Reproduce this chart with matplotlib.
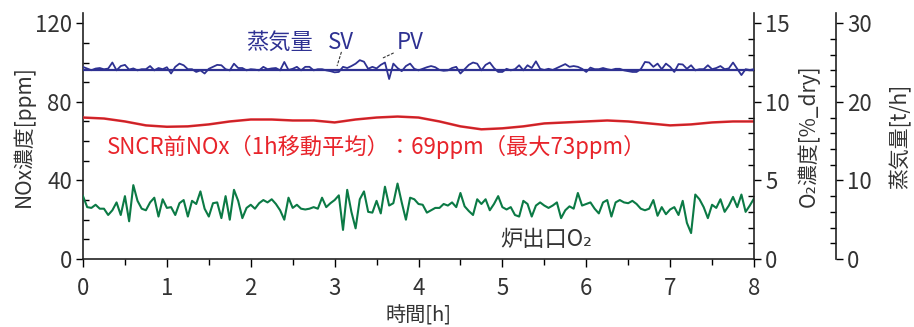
import numpy as np
import matplotlib
matplotlib.use("Agg")
import matplotlib.pyplot as plt
from matplotlib.ticker import MultipleLocator

plt.rcParams['font.family'] = ['Noto Sans CJK JP', 'DejaVu Sans']

# time axis for 1-min style traces (every 0.05 h)
t_fast = np.arange(161) * 0.05

# furnace outlet O2 [%_dry]
o2 = [4.0, 3.3, 3.25, 3.45, 3.2, 3.2, 2.8, 3.1, 3.6, 2.8,
      4.0, 2.4, 4.7, 3.7, 3.2, 3.1, 3.6, 3.9, 2.7, 3.8,
      3.25, 3.3, 2.8, 3.55, 3.75, 2.7, 3.7, 3.5, 4.3, 3.2,
      2.7, 3.55, 3.6, 2.6, 4.0, 2.5, 4.4, 3.7, 2.6, 3.25,
      3.45, 3.2, 3.55, 3.75, 3.6, 3.8, 3.5, 3.1, 2.5, 3.9,
      3.25, 3.45, 3.2, 3.15, 3.2, 3.3, 3.2, 3.9, 3.3, 3.55,
      3.75, 4.05, 1.85, 4.4, 3.0, 1.95, 3.8, 4.3, 3.0, 2.95,
      3.7, 2.9, 4.6, 3.4, 3.55, 4.8, 3.6, 2.5, 3.9, 3.8,
      3.5, 3.45, 2.95, 3.1, 3.25, 3.25, 3.5, 3.4, 3.6, 3.3,
      4.2, 3.35, 3.05, 2.8, 3.8, 3.5, 3.8, 3.1, 3.5, 4.0,
      3.3, 3.15, 3.3, 2.8, 2.7, 3.7, 3.5, 2.7, 3.4, 3.6,
      3.4, 3.25, 3.4, 3.6, 2.6, 3.1, 3.35, 3.2, 4.2, 3.4,
      3.5, 3.6, 3.2, 2.9, 3.6, 3.75, 2.7, 3.6, 3.75, 3.6,
      3.55, 3.7, 3.5, 3.2, 3.1, 3.2, 3.75, 2.75, 3.3, 2.85,
      3.15, 3.3, 2.8, 3.7, 2.3, 1.65, 4.1, 3.8, 3.3, 2.6,
      3.45, 3.25, 3.8, 3.0, 3.4, 3.95, 3.3, 4.1, 3.0, 3.4,
      3.85]

# steam flow PV [t/h]
steam_pv = [24.44, 24.23, 24.02, 24.23, 24.3, 24.14, 24.23, 25.0, 24.0, 24.55,
            24.7, 24.1, 24.25, 24.0, 24.15, 24.15, 24.55, 24.0, 24.3, 24.15,
            24.4, 23.6, 24.45, 24.86, 24.65, 24.15, 24.15, 23.8, 24.0, 23.6,
            24.2, 24.45, 24.7, 24.65, 24.15, 24.0, 24.85, 24.3, 24.3, 24.0,
            24.15, 24.1, 24.0, 24.45, 24.15, 24.25, 24.3, 24.0, 25.07, 24.05,
            24.2, 24.45, 24.0, 24.45, 24.45, 24.0, 24.15, 24.15, 24.0, 23.9,
            23.75, 23.8, 24.45, 24.3, 24.55, 24.85, 25.3, 25.1, 24.2, 24.45,
            24.25, 24.7, 25.0, 22.9, 24.86, 24.3, 23.9, 24.55, 24.86, 24.2,
            24.0, 24.2, 24.4, 24.55, 24.4, 24.05, 23.95, 24.0, 24.3, 24.45,
            23.6, 24.15, 24.7, 25.0, 24.85, 24.0, 24.7, 25.0, 24.3, 23.8,
            23.8, 24.2, 24.0, 24.15, 24.65, 24.0, 24.65, 24.3, 25.15, 24.2,
            24.05, 24.2, 24.05, 24.3, 24.55, 24.8, 24.45, 24.55, 24.45, 24.2,
            23.8, 24.35, 24.15, 24.15, 24.3, 24.15, 24.05, 24.2, 24.2, 24.0,
            23.9, 23.8, 23.8, 24.15, 25.07, 25.0, 24.45, 24.86, 24.15, 24.86,
            24.45, 23.8, 24.8, 24.75, 24.2, 24.65, 24.0, 24.15, 24.15, 24.65,
            24.15, 24.3, 24.55, 24.15, 24.25, 25.0, 24.2, 23.4, 24.15, 24.05,
            24.15]
steam_sv = 24.1

# NOx before SNCR, 1h moving average [ppm] (every 0.25 h)
t_nox = np.arange(33) * 0.25
nox = [72, 71.5, 70, 68, 67.3, 67.5, 68.5, 70, 71, 71, 70.5,
       70.5, 69.5, 71, 72, 72.5, 72, 70, 67.5, 66, 66.5,
       67.5, 69, 69.5, 70, 70.5, 70, 69, 68, 68.5, 69.5,
       70, 70]

blue = '#2e3192'
green = '#0b7a45'
red = '#e8242b'
txt = '#333333'

fig = plt.figure(figsize=(9.14, 3.27), dpi=100)
ax = fig.add_axes([83 / 914, 68 / 327, 671 / 914, 246 / 327])
ax2 = ax.twinx()
ax3 = ax.twinx()

ax.plot(t_nox, nox, color=red, lw=1.8, zorder=3)
ax.plot(t_nox, nox, color='#8a2a2a', lw=0.6, alpha=0.6, zorder=4)
ax2.plot(t_fast, o2, color=green, lw=1.5)
ax3.plot(t_fast, steam_pv, color=blue, lw=1.3)
ax3.axhline(steam_sv, color=blue, lw=1.6)

ax.set_xlim(0, 8)
ax.set_ylim(0, 125.2)
ax2.set_ylim(0, 15.65)
ax3.set_ylim(0, 31.3)

ax.spines['top'].set_visible(False)
ax.spines['right'].set_visible(False)
for a in (ax2, ax3):
    a.spines['top'].set_visible(False)
    a.spines['left'].set_visible(False)
    a.spines['bottom'].set_visible(False)
ax3.spines['right'].set_position(('axes', 1.122))
for a in (ax, ax2, ax3):
    for s in a.spines.values():
        s.set_linewidth(1.2)
        s.set_color('#222222')

ax.xaxis.set_major_locator(MultipleLocator(1))
ax.xaxis.set_minor_locator(MultipleLocator(0.5))
ax.tick_params(axis='x', which='major', direction='out', length=6, width=1, pad=7,
               labelsize=16, labelcolor=txt)
ax.tick_params(axis='x', which='minor', direction='out', length=4, width=1)

ax.yaxis.set_major_locator(MultipleLocator(40))
ax.yaxis.set_minor_locator(MultipleLocator(10))
ax2.yaxis.set_major_locator(MultipleLocator(5))
ax2.yaxis.set_minor_locator(MultipleLocator(1))
ax3.yaxis.set_major_locator(MultipleLocator(10))
ax3.yaxis.set_minor_locator(MultipleLocator(2))
for a in (ax, ax2, ax3):
    a.tick_params(axis='y', which='major', direction='out', length=5, width=1, pad=3,
                  labelsize=16, labelcolor=txt)
    a.tick_params(axis='y', which='minor', direction='in', length=4, width=1)

ax.set_xlabel('時間[h]', fontsize=14.5, color=txt, va='center')
ax.xaxis.set_label_coords(0.5, -0.23)
ax.set_ylabel('NOx濃度[ppm]', fontsize=15, color=txt, labelpad=0)
ax2.set_ylabel('O₂濃度[%_dry]', fontsize=15, color=txt, labelpad=5)
ax3.set_ylabel('蒸気量[t/h]', fontsize=15, color=txt, labelpad=13)

ax3.text(1.95, 27.6, '蒸気量', color=blue, fontsize=16, va='center', ha='left')
ax3.text(3.07, 27.6, 'SV', color=blue, fontsize=16, va='center', ha='center')
ax3.text(3.9, 27.6, 'PV', color=blue, fontsize=16, va='center', ha='center')
dash = dict(arrowstyle='-', linestyle=(0, (2, 2)), lw=0.8, color='#333333',
            shrinkA=0, shrinkB=0)
ax3.annotate('', xy=(3.03, 24.6), xytext=(3.08, 26.3), arrowprops=dash)
ax3.annotate('', xy=(3.56, 25.5), xytext=(3.70, 26.2), arrowprops=dash)

ax.text(0.29, 57, 'SNCR前NOx（1h移動平均）：69ppm（最大73ppm）', color=red, fontsize=16,
        va='center', ha='left')
ax.text(4.97, 9.7, '炉出口O₂', color=txt, fontsize=16, va='center', ha='left')

plt.savefig('out.png', dpi=100)
